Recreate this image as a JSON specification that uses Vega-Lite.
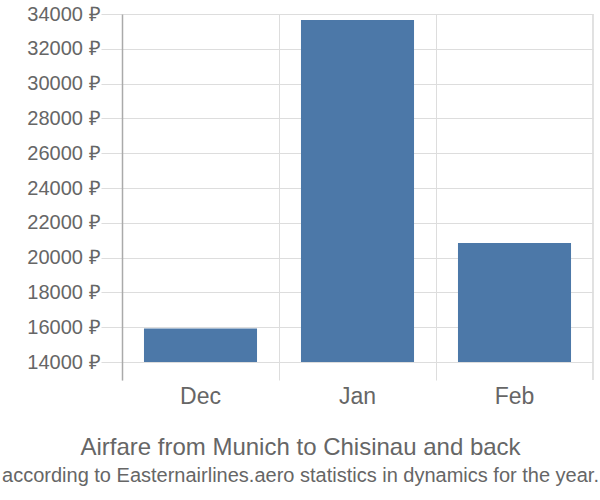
{
  "$schema": "https://vega.github.io/schema/vega-lite/v6.json",
  "autosize": "none",
  "padding": {"left": 122, "top": 14, "right": 7, "bottom": 120},
  "width": 471,
  "height": 366,
  "background": "white",
  "config": {"view": {"stroke": null}, "font": "Liberation Sans"},
  "title": {
    "text": "Airfare from Munich to Chisinau and back",
    "subtitle": "according to Easternairlines.aero statistics in dynamics for the year.",
    "orient": "bottom",
    "anchor": "middle",
    "dx": -57,
    "offset": 28,
    "font": "Liberation Sans",
    "fontSize": 24,
    "fontWeight": "normal",
    "color": "#666666",
    "subtitleFont": "Liberation Sans",
    "subtitleFontSize": 20,
    "subtitleColor": "#666666",
    "subtitlePadding": 6
  },
  "data": {"values": [
    {"month": "Dec", "price": 15925},
    {"month": "Jan", "price": 33655},
    {"month": "Feb", "price": 20840}
  ]},
  "layer": [
    {
      "mark": {"type": "bar", "color": "#4c78a8", "width": {"band": 0.72}},
      "encoding": {
        "x": {
          "field": "month", "type": "nominal", "sort": ["Dec", "Jan", "Feb"],
          "scale": {"paddingInner": 0, "paddingOuter": 0},
          "axis": {
            "title": null, "domain": false, "ticks": false, "grid": true,
            "bandPosition": 0, "gridColor": "#dddddd", "gridWidth": 1,
            "labelFontSize": 23, "labelColor": "#666666", "labelPadding": 5,
            "labelAngle": 0, "labelFont": "Liberation Sans"
          }
        },
        "y": {
          "field": "price", "type": "quantitative",
          "scale": {"domain": [12966, 34000], "nice": false, "zero": false},
          "axis": {
            "title": null,
            "values": [14000, 16000, 18000, 20000, 22000, 24000, 26000, 28000, 30000, 32000, 34000],
            "labelExpr": "format(datum.value, 'd') + ' ₽'",
            "grid": true, "gridColor": "#dddddd",
            "tickSize": 21, "tickColor": "#dddddd",
            "domain": true, "domainColor": "#aaaaaa", "domainWidth": 1.5,
            "labelFontSize": 20, "labelColor": "#666666", "labelPadding": 1,
            "labelFont": "Liberation Sans"
          }
        },
        "y2": {"datum": 14000}
      }
    },
    {
      "mark": {"type": "rule", "color": "#dddddd", "strokeWidth": 1},
      "encoding": {
        "x": {"datum": "Feb", "type": "nominal", "bandPosition": 1}
      }
    }
  ]
}
